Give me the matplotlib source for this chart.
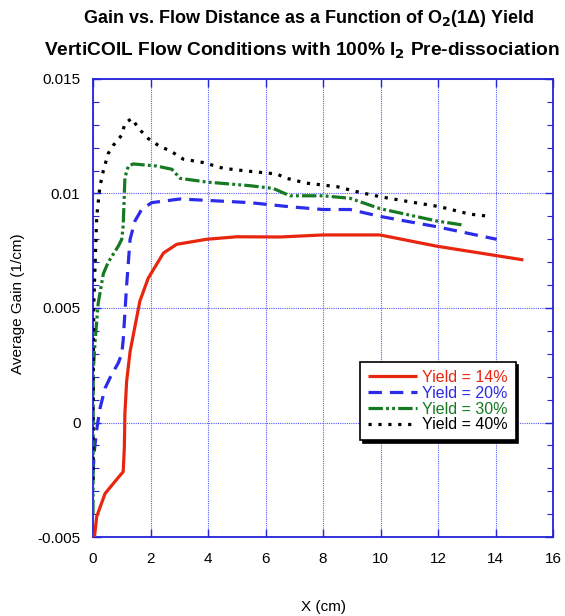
import matplotlib
matplotlib.use("Agg")
import matplotlib.pyplot as plt
from matplotlib.ticker import MultipleLocator

plt.rcParams["font.family"] = ["Liberation Sans", "DejaVu Sans"]

# values
x14 = [0.05, 0.13, 0.42, 0.88, 1.05, 1.09, 1.11, 1.17, 1.29, 1.63, 1.92, 2.45, 2.91, 3.95, 5.0, 6.5, 8.0, 9.98, 11.95, 14.97]
y14 = [-0.0050, -0.0041, -0.0031, -0.0024, -0.00215, -0.0011, 0.0004, 0.0018, 0.0031, 0.0053, 0.0063, 0.0074, 0.00778, 0.0080, 0.00811, 0.0081, 0.00819, 0.00819, 0.0077, 0.0071]

x20 = [0.0, 0.05, 0.13, 0.24, 0.42, 0.65, 0.88, 1.0, 1.05, 1.17, 1.29, 1.46, 1.69, 2.04, 3.03, 3.95, 5.46, 6.85, 8.0, 8.94, 9.98, 11.95, 14.04]
y20 = [-0.0022, -0.0012, -0.0003, 0.0006, 0.0015, 0.0021, 0.0026, 0.0030, 0.0036, 0.0060, 0.0080, 0.0088, 0.0093, 0.0096, 0.00976, 0.0097, 0.0096, 0.00942, 0.0093, 0.0093, 0.0090, 0.00855, 0.0080]

x30 = [0.0, 0.01, 0.07, 0.18, 0.36, 0.53, 0.88, 1.0, 1.05, 1.11, 1.23, 1.40, 2.2, 2.74, 3.03, 3.95, 5.46, 6.27, 6.85, 8.0, 8.94, 9.98, 11.95, 12.88]
y30 = [-0.0040, 0.0023, 0.0035, 0.0052, 0.0065, 0.0070, 0.0077, 0.0080, 0.0086, 0.0107, 0.0112, 0.01129, 0.0112, 0.01106, 0.01066, 0.0105, 0.01034, 0.01022, 0.0099, 0.0099, 0.00979, 0.00934, 0.0088, 0.00862]

x40 = [0.0, 0.01, 0.03, 0.13, 0.24, 0.36, 0.53, 0.71, 1.0, 1.11, 1.35, 1.58, 1.92, 2.33, 2.68, 3.14, 3.84, 4.53, 5.35, 6.39, 6.74, 7.43, 8.48, 9.17, 9.98, 11.0, 12.07, 13.1, 13.87]
y40 = [-0.0025, 0.0030, 0.0053, 0.0090, 0.0103, 0.0110, 0.01175, 0.01211, 0.01255, 0.01306, 0.01328, 0.01285, 0.0124, 0.01205, 0.01187, 0.0115, 0.01135, 0.0111, 0.01098, 0.01085, 0.01066, 0.01045, 0.0103, 0.01008, 0.00986, 0.00964, 0.00942, 0.0091, 0.00899]

labels = ["Yield = 14%", "Yield = 20%", "Yield = 30%", "Yield = 40%"]
colors = ["#e8260f", "#2b2be8", "#157a22", "#000000"]
xticks = [0, 2, 4, 6, 8, 10, 12, 14, 16]
yticks = [-0.005, 0, 0.005, 0.01, 0.015]
yticklabels = ["-0.005", "0", "0.005", "0.01", "0.015"]

axis_blue = "#2424d8"

fig = plt.figure(figsize=(5.65, 6.16), dpi=100)
ax = fig.add_axes([0.1646, 0.1282, 0.8142, 0.7436])

kw = dict(linewidth=2.3, zorder=4, solid_capstyle="butt", dash_capstyle="butt")
ax.plot(x14, y14, color=colors[0], label=labels[0], **kw)
ax.plot(x20, y20, color=colors[1], dashes=(4.2, 2.5), label=labels[1], **kw)
ax.plot(x30, y30, color=colors[2], dashes=(4.5, 1.0, 0.9, 1.0, 0.9, 1.0), label=labels[2], **kw)
ax.plot(x40, y40, color=colors[3], dashes=(1.0, 2.1), label=labels[3], **kw)

ax.set_xlim(0, 16)
ax.set_ylim(-0.005, 0.015)
ax.set_xticks(xticks)
ax.set_xticklabels([str(v) for v in xticks])
ax.set_yticks(yticks)
ax.set_yticklabels(yticklabels)
ax.yaxis.set_minor_locator(MultipleLocator(0.001))

ax.grid(True, which="major", color="#5a5aff", linestyle=(0, (1, 1)), linewidth=0.8)
for s in ax.spines.values():
    s.set_color(axis_blue)
    s.set_linewidth(1.3)
ax.tick_params(which="both", direction="in", top=True, right=True, color=axis_blue,
               labelsize=11, labelcolor="black")
ax.tick_params(axis="x", pad=11)
ax.tick_params(axis="y", pad=9)
ax.tick_params(which="major", length=6, width=1.0)
ax.tick_params(which="minor", length=4, width=0.8)

ax.set_xlabel("X (cm)", fontsize=11, va="center")
ax.xaxis.set_label_coords(0.5, -0.152)
ax.set_ylabel("Average Gain (1/cm)", fontsize=11, va="center")
ax.yaxis.set_label_coords(-0.163, 0.51)

fig.text(0.547, 0.970, r"Gain vs. Flow Distance as a Function of O$_{\mathbf{2}}$(1Δ) Yield",
         ha="center", va="center", fontsize=13, fontweight="bold")
fig.text(0.534, 0.918, r"VertiCOIL Flow Conditions with 100% I$_{\mathbf{2}}$ Pre-dissociation",
         ha="center", va="center", fontsize=13.8, fontweight="bold")

leg = ax.legend(loc="upper left", bbox_to_anchor=(0.580, 0.382), borderaxespad=0,
                fontsize=11.5, handlelength=3.1, handletextpad=0.3, labelspacing=0.05,
                borderpad=0.5, fancybox=False, framealpha=1, edgecolor="black",
                shadow={"color": "black", "alpha": 1})
leg.get_frame().set_linewidth(1.2)
for t, c in zip(leg.get_texts(), colors):
    t.set_color(c)

fig.savefig("out.png", dpi=100)
